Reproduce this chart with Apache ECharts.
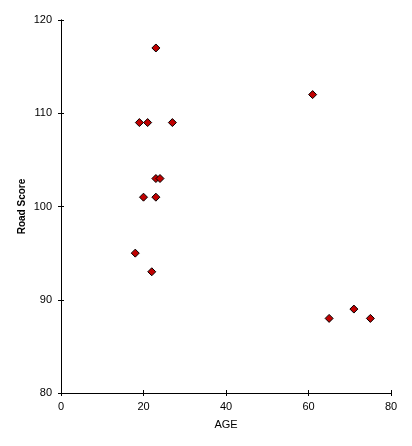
<!DOCTYPE html>
<html><head><meta charset="utf-8">
<script src="https://cdn.jsdelivr.net/npm/echarts@6/dist/echarts.min.js"></script>
<style>html,body{margin:0;padding:0;background:#fff}#c{width:412px;height:446px}</style>
</head><body><div id="c"></div>
<script>
const ages = [23, 61, 19, 21, 27, 23, 24, 20, 23, 18, 22, 65, 71, 75];
const roadScores = [117, 112, 109, 109, 109, 103, 103, 101, 101, 95, 93, 88, 89, 88];
const xName = 'AGE';
const yName = 'Road Score';

const pts = ages.map((a, i) => [a, roadScores[i]]);
const chart = echarts.init(document.getElementById('c'), null, {renderer: 'canvas'});
const font = 'Liberation Sans, Arial, sans-serif';
const axisCommon = {
  axisLine: {show: true, onZero: false, lineStyle: {color: '#000', width: 1}},
  splitLine: {show: false}
};
chart.setOption({
  backgroundColor: '#fff',
  animation: false,
  grid: {left: 61, right: 21, top: 20, bottom: 53, containLabel: false},
  xAxis: [
    Object.assign({}, axisCommon, {
      type: 'value', min: 0, max: 80, interval: 20,
      name: xName, nameLocation: 'middle', nameGap: 26, nameMoveOverlap: false,
      nameTextStyle: {color: '#000', fontSize: 11, fontFamily: font},
      axisTick: {show: true, length: 3, lineStyle: {color: '#000'}},
      axisLabel: {color: '#000', fontSize: 11, fontFamily: font, margin: 8}
    }),
    Object.assign({}, axisCommon, {
      type: 'value', min: 0, max: 80, interval: 20, position: 'bottom', gridIndex: 0,
      axisTick: {show: true, inside: true, length: 3, lineStyle: {color: '#000'}},
      axisLabel: {show: false}
    })
  ],
  yAxis: [
    Object.assign({}, axisCommon, {
      type: 'value', min: 80, max: 120, interval: 10,
      name: yName, nameLocation: 'middle', nameGap: 34, nameMoveOverlap: false,
      nameTextStyle: {color: '#000', fontSize: 10, fontWeight: 'bold', fontFamily: font},
      axisTick: {show: true, length: 3, lineStyle: {color: '#000'}},
      axisLabel: {color: '#000', fontSize: 11, fontFamily: font, margin: 9}
    }),
    Object.assign({}, axisCommon, {
      type: 'value', min: 80, max: 120, interval: 10, position: 'left',
      axisTick: {show: true, inside: true, length: 3, lineStyle: {color: '#000'}},
      axisLabel: {show: false}
    })
  ],
  series: [{
    type: 'scatter',
    xAxisIndex: 0, yAxisIndex: 0,
    data: pts,
    symbol: 'diamond',
    symbolSize: 8,
    itemStyle: {color: '#c00000', borderColor: '#000', borderWidth: 1, opacity: 1},
    emphasis: {disabled: true}
  }]
});
</script>
</body></html>
